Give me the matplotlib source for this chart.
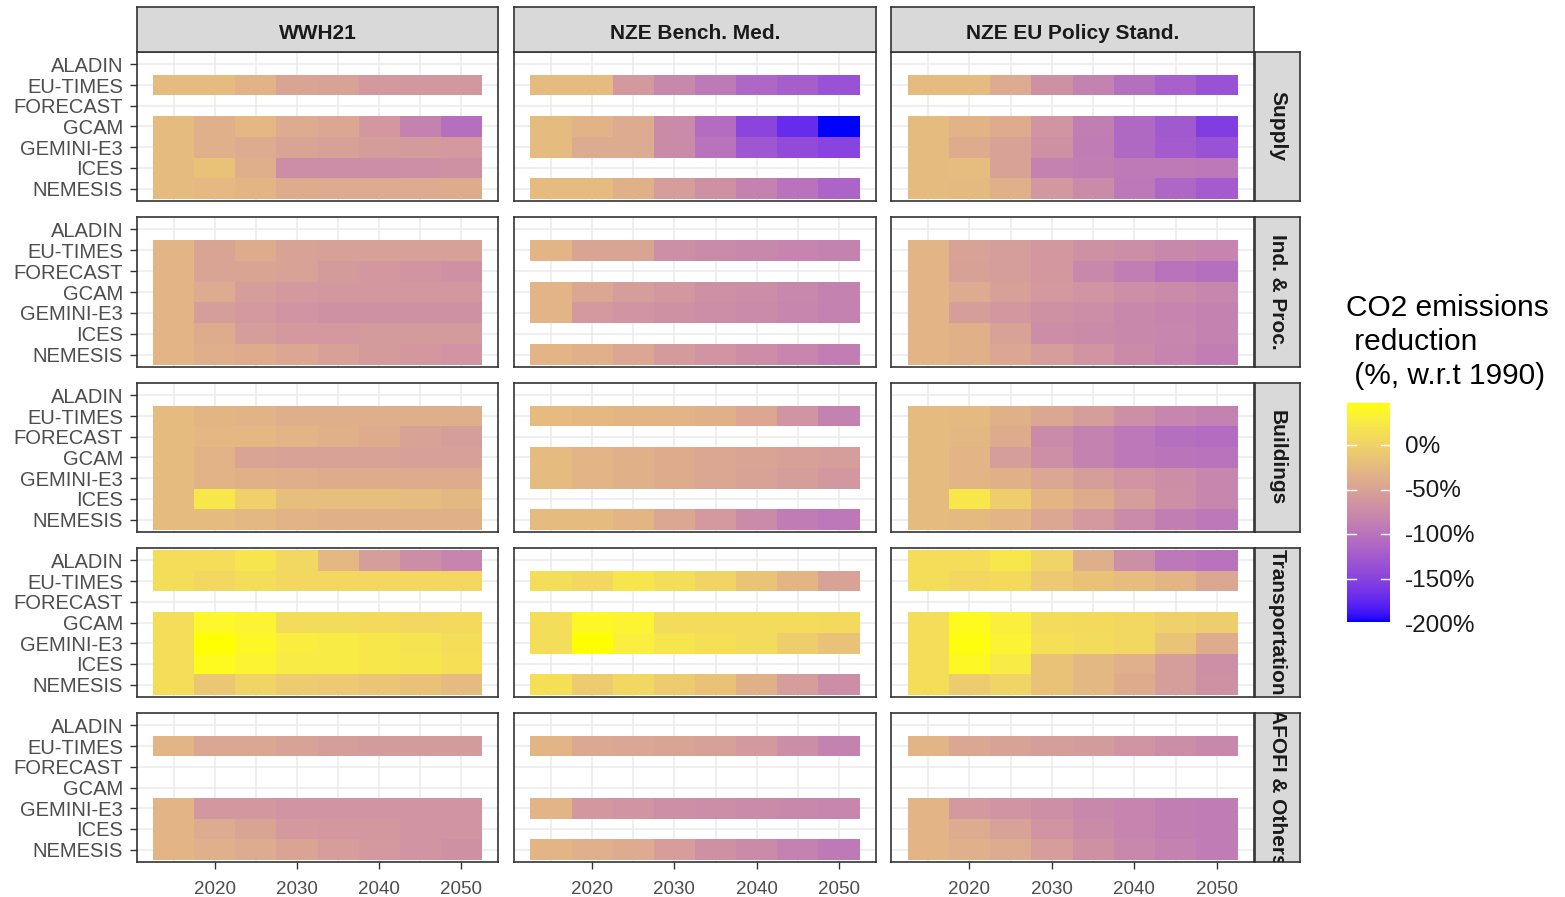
#!/usr/bin/env python

import numpy as np
import matplotlib
matplotlib.use("Agg")
import matplotlib.pyplot as plt
from matplotlib.colors import ListedColormap, Normalize

plt.rcParams["font.family"] = ["Liberation Sans", "DejaVu Sans"]

years = [2015, 2020, 2025, 2030, 2035, 2040, 2045, 2050]
models = ["ALADIN", "EU-TIMES", "FORECAST", "GCAM", "GEMINI-E3", "ICES", "NEMESIS"]
scenarios = ["WWH21", "NZE Bench. Med.", "NZE EU Policy Stand."]
sectors = ["Supply", "Ind. & Proc.", "Buildings", "Transportation", "AFOFI & Others"]

# CO2 emissions change w.r.t. 1990 (%), one row per model, None = no data
N = None

supply_wwh21 = [
    N,
    [-24, -24, -33, -48, -50, -60, -62, -62],
    N,
    [-24, -36, -28, -42, -45, -62, -85, -105],
    [-24, -36, -42, -48, -52, -56, -58, -60],
    [-24, -17, -38, -72, -72, -72, -70, -68],
    [-24, -26, -30, -40, -42, -42, -42, -40],
]
supply_bench = [
    N,
    [-24, -24, -60, -78, -92, -112, -122, -135],
    N,
    [-24, -33, -42, -75, -108, -148, -172, -198],
    [-24, -42, -42, -75, -100, -130, -142, -150],
    N,
    [-24, -24, -35, -55, -68, -85, -100, -115],
]
supply_policy = [
    N,
    [-24, -24, -42, -68, -85, -105, -120, -135],
    N,
    [-24, -33, -40, -65, -88, -110, -128, -155],
    [-24, -40, -50, -68, -90, -110, -125, -135],
    [-24, -22, -50, -85, -88, -92, -92, -95],
    [-24, -25, -35, -62, -75, -95, -112, -125],
]

industry_wwh21 = [
    N,
    [-32, -48, -40, -50, -52, -52, -52, -52],
    [-32, -48, -48, -50, -58, -62, -65, -68],
    [-32, -42, -55, -60, -62, -62, -62, -62],
    [-32, -55, -60, -65, -68, -68, -68, -68],
    [-32, -40, -55, -60, -60, -58, -58, -58],
    [-32, -38, -40, -45, -52, -58, -62, -65],
]
industry_bench = [
    N,
    [-32, -48, -48, -70, -75, -78, -82, -85],
    N,
    [-32, -45, -55, -62, -68, -72, -78, -85],
    [-32, -60, -65, -68, -72, -75, -80, -85],
    N,
    [-32, -35, -45, -58, -65, -72, -80, -88],
]
industry_policy = [
    N,
    [-32, -50, -55, -62, -68, -72, -78, -82],
    [-32, -52, -55, -62, -78, -88, -100, -105],
    [-32, -42, -52, -60, -65, -70, -75, -80],
    [-32, -55, -62, -68, -72, -78, -82, -85],
    [-32, -35, -50, -72, -75, -78, -80, -85],
    [-32, -35, -45, -55, -65, -75, -82, -88],
]

buildings_wwh21 = [
    N,
    [-24, -30, -33, -38, -38, -38, -38, -38],
    [-24, -28, -28, -32, -35, -40, -50, -55],
    [-24, -33, -48, -50, -50, -50, -52, -52],
    [-24, -33, -35, -38, -40, -40, -40, -40],
    [-24, 22, -2, -20, -20, -20, -22, -27],
    [-24, -24, -27, -33, -35, -35, -35, -35],
]
buildings_bench = [
    N,
    [-24, -27, -30, -32, -35, -45, -65, -85],
    N,
    [-24, -32, -35, -40, -45, -48, -52, -55],
    [-24, -32, -35, -40, -45, -50, -55, -62],
    N,
    [-24, -24, -30, -45, -60, -75, -90, -95],
]
buildings_policy = [
    N,
    [-24, -25, -35, -45, -55, -70, -80, -85],
    [-24, -27, -40, -75, -85, -95, -105, -108],
    [-24, -32, -55, -70, -85, -95, -98, -100],
    [-24, -32, -35, -45, -55, -65, -72, -80],
    [-24, 22, -5, -30, -40, -55, -70, -80],
    [-24, -25, -30, -45, -60, -75, -88, -95],
]

transport_wwh21 = [
    [12, 12, 20, 5, -28, -55, -72, -82],
    [12, 5, 12, 5, 5, 5, 5, 5],
    N,
    [12, 38, 35, 10, 10, 8, 5, 8],
    [12, 47, 40, 28, 25, 22, 18, 12],
    [12, 42, 35, 25, 25, 22, 20, 15],
    [12, -12, 2, -7, -10, -14, -17, -24],
]
transport_bench = [
    N,
    [12, 5, 20, 12, 2, -15, -30, -50],
    N,
    [12, 40, 35, 10, 10, 10, 10, 8],
    [12, 47, 30, 20, 15, 10, -5, -17],
    N,
    [15, -7, 5, -7, -17, -35, -55, -72],
]
transport_policy = [
    [12, 12, 22, 2, -38, -70, -95, -100],
    [12, 5, 8, -10, -17, -22, -30, -45],
    N,
    [12, 42, 30, 10, 8, 5, -2, -5],
    [12, 45, 35, 15, 10, 5, -15, -40],
    [12, 40, 25, -17, -27, -37, -55, -70],
    [12, -7, 2, -17, -27, -40, -55, -68],
]

afofi_wwh21 = [
    N,
    [-32, -45, -45, -50, -55, -58, -58, -58],
    N,
    N,
    [-32, -62, -62, -65, -65, -65, -65, -65],
    [-32, -42, -48, -60, -62, -62, -65, -65],
    [-32, -37, -42, -48, -55, -60, -65, -68],
]
afofi_bench = [
    N,
    [-32, -44, -46, -48, -52, -60, -72, -85],
    N,
    N,
    [-32, -62, -65, -70, -72, -75, -78, -80],
    N,
    [-32, -37, -42, -55, -68, -75, -85, -92],
]
afofi_policy = [
    N,
    [-32, -45, -50, -55, -58, -65, -72, -78],
    N,
    N,
    [-32, -60, -65, -70, -78, -82, -88, -90],
    [-32, -42, -50, -65, -75, -82, -88, -90],
    [-32, -37, -42, -55, -68, -78, -85, -90],
]

panels = [
    [supply_wwh21, supply_bench, supply_policy],
    [industry_wwh21, industry_bench, industry_policy],
    [buildings_wwh21, buildings_bench, buildings_policy],
    [transport_wwh21, transport_bench, transport_policy],
    [afofi_wwh21, afofi_bench, afofi_policy],
]


def to_grid(rows):
    return np.array([[np.nan] * len(years) if r is None else r for r in rows],
                    dtype=float)


# blue -> yellow gradient interpolated in CIE Lab
M = np.array([[0.4124, 0.3576, 0.1805],
              [0.2126, 0.7152, 0.0722],
              [0.0193, 0.1192, 0.9505]])
WHITE = np.array([0.95047, 1.0, 1.08883])


def srgb_to_lab(rgb):
    c = np.asarray(rgb, float)
    lin = np.where(c <= 0.04045, c / 12.92, ((c + 0.055) / 1.055) ** 2.4)
    xyz = (M @ lin) / WHITE
    f = np.where(xyz > 0.008856, np.cbrt(xyz), 7.787 * xyz + 16 / 116)
    return np.array([116 * f[1] - 16, 500 * (f[0] - f[1]), 200 * (f[1] - f[2])])


def lab_to_srgb(lab):
    L, a, b = lab[:, 0], lab[:, 1], lab[:, 2]
    fy = (L + 16) / 116
    f = np.stack([fy + a / 500, fy, fy - b / 200], axis=1)
    xyz = np.where(f ** 3 > 0.008856, f ** 3, (f - 16 / 116) / 7.787) * WHITE
    lin = np.clip(xyz @ np.linalg.inv(M).T, 0, 1)
    return np.where(lin <= 0.0031308, 12.92 * lin, 1.055 * lin ** (1 / 2.4) - 0.055)


t = np.linspace(0, 1, 256)[:, None]
lab = srgb_to_lab([0, 0, 1]) * (1 - t) + srgb_to_lab([1, 1, 0]) * t
cmap = ListedColormap(np.clip(lab_to_srgb(lab), 0, 1))

all_vals = np.concatenate([to_grid(p).ravel() for row in panels for p in row])
norm = Normalize(np.nanmin(all_vals), np.nanmax(all_vals))

W, H = 1565, 897
fig = plt.figure(figsize=(W / 100, H / 100), dpi=100)


def box(x0, y0, x1, y1):
    return [x0 / W, 1 - y1 / H, (x1 - x0) / W, (y1 - y0) / H]


def strip_axes(x0, y0, x1, y1):
    sax = fig.add_axes(box(x0, y0, x1, y1))
    sax.set_facecolor("#D9D9D9")
    sax.set_xticks([])
    sax.set_yticks([])
    for s in sax.spines.values():
        s.set_color(dark)
        s.set_linewidth(1.2)
    return sax


col_x = [(137, 498), (514, 876), (891, 1254)]
row_y = [(52, 201), (217, 367), (383, 532), (548, 697), (713, 862)]
dark = "#333333"

x_edges = np.arange(years[0] - 2.5, years[-1] + 5, 5)
y_edges = np.arange(len(models) + 1) - 0.5

for i, sector in enumerate(sectors):
    for j, scen in enumerate(scenarios):
        x0, x1 = col_x[j]
        y0, y1 = row_y[i]
        ax = fig.add_axes(box(x0, y0, x1, y1))
        z = np.ma.masked_invalid(to_grid(panels[i][j]))
        ax.pcolormesh(x_edges, y_edges, z, cmap=cmap, norm=norm, zorder=2)
        ax.set_xlim(2010.5, 2054.5)
        ax.set_ylim(len(models) - 0.4, -0.6)
        ax.set_xticks([2020, 2030, 2040, 2050])
        ax.set_xticks([2015, 2025, 2035, 2045], minor=True)
        ax.set_yticks(range(len(models)))
        ax.set_yticklabels(models)
        ax.grid(which="both", color="#EBEBEB", lw=1.1, zorder=0)
        ax.set_axisbelow(True)
        for s in ax.spines.values():
            s.set_color(dark)
            s.set_linewidth(1.2)
        ax.tick_params(which="minor", length=0)
        ax.tick_params(which="major", direction="out", length=5, width=1,
                       color=dark, labelcolor="#4D4D4D", labelsize=13.5)
        ax.tick_params(axis="y", pad=5, labelsize=14.5)
        ax.tick_params(axis="x", pad=9)
        if i < len(sectors) - 1:
            ax.tick_params(bottom=False, labelbottom=False)
        if j > 0:
            ax.tick_params(left=False, labelleft=False)

        if i == 0:
            sax = strip_axes(x0, 7, x1, 52)
            sax.text(0.5, 0.42, scen, ha="center", va="center",
                     fontsize=15, fontweight="bold", color="#1A1A1A")

    rax = strip_axes(1255, row_y[i][0], 1300, row_y[i][1])
    rax.text(0.5, 0.5, sector, ha="center", va="center", rotation=-90,
             fontsize=15, fontweight="bold", color="#1A1A1A", clip_on=True)

# colour bar legend
fig.text(1346 / W, 1 - 294 / H, "CO2 emissions\n reduction\n (%, w.r.t 1990)",
         ha="left", va="top", fontsize=21.5, color="black", linespacing=1.28)
cax = fig.add_axes(box(1347, 403, 1390, 622))
grad = np.linspace(norm.vmin, norm.vmax, 300)[:, None]
cax.imshow(grad, cmap=cmap, norm=norm, aspect="auto", origin="lower",
           extent=[0, 1, norm.vmin, norm.vmax])
cax.set_xlim(0, 1)
cax.set_ylim(norm.vmin, norm.vmax)
cax.axis("off")
for v in [0, -50, -100, -150, -200]:
    if v > norm.vmin:
        cax.plot([0, 0.2], [v, v], color="white", lw=1)
        cax.plot([0.8, 1], [v, v], color="white", lw=1)
    cax.text(1.35, v - 2, f"{v}%", ha="left", va="center", fontsize=17.5,
             color="#1A1A1A", clip_on=False)

fig.savefig("out.png", dpi=100)
